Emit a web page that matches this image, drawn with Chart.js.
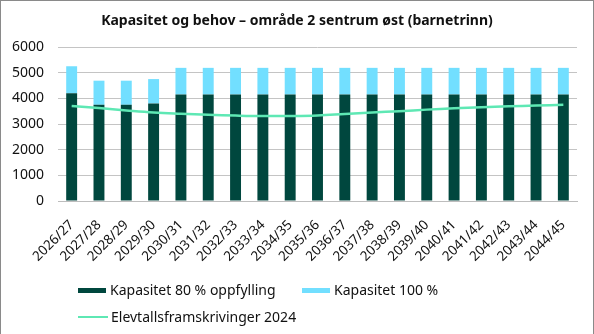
<!DOCTYPE html>
<html><head><meta charset="utf-8">
<script src="https://cdn.jsdelivr.net/npm/chart.js@4/dist/chart.umd.min.js"></script>
<style>
html,body{margin:0;padding:0;background:#fff;}
#wrap{position:relative;width:594px;height:334px;box-sizing:border-box;border-left:1px solid #8a8a8a;border-right:1px solid #8a8a8a;border-top:1px solid #8a8a8a;font-family:"Noto Sans",sans-serif;color:#111;}
#title{position:absolute;left:0;top:9px;width:592px;text-align:center;font-weight:bold;font-size:14px;}
canvas{position:absolute;left:0;top:0;}
.leg{position:absolute;font-size:14px;white-space:nowrap;line-height:16px;}
.box{display:inline-block;width:28px;height:5px;vertical-align:middle;margin-right:4px;position:relative;top:-1px;}
.ln{display:inline-block;width:30px;height:2px;vertical-align:middle;margin-right:3px;position:relative;top:-1px;}
</style></head>
<body><div id="wrap"><canvas id="c" width="592" height="333"></canvas><div id="title">Kapasitet og behov – område 2 sentrum øst (barnetrinn)</div>
<div class="leg" style="left:77px;top:281px"><span class="box" style="background:#00473e"></span>Kapasitet 80 % oppfylling</div>
<div class="leg" style="left:301px;top:281px"><span class="box" style="background:#72dfff"></span>Kapasitet 100 %</div>
<div class="leg" style="left:77px;top:308px"><span class="ln" style="background:#5ee8b4"></span>Elevtallsframskrivinger 2024</div>
</div>
<script>
const categories = ["2026/27","2027/28","2028/29","2029/30","2030/31","2031/32","2032/33","2033/34","2034/35","2035/36","2036/37","2037/38","2038/39","2039/40","2040/41","2041/42","2042/43","2043/44","2044/45"];
const kapasitet80 = [4200,3750,3750,3800,4150,4150,4150,4150,4150,4150,4150,4150,4150,4150,4150,4150,4150,4150,4150];
const kapasitet100 = [5250,4687.5,4687.5,4750,5187.5,5187.5,5187.5,5187.5,5187.5,5187.5,5187.5,5187.5,5187.5,5187.5,5187.5,5187.5,5187.5,5187.5,5187.5];
const elevtall = [3700,3620,3530,3450,3400,3360,3330,3310,3310,3330,3390,3450,3500,3560,3610,3650,3690,3720,3750];
const yTicks = [0,1000,2000,3000,4000,5000,6000];
const diff100 = kapasitet100.map((v,i)=>v-kapasitet80[i]);

new Chart(document.getElementById('c'), {
  data: {
    labels: categories,
    datasets: [
      {type:'line', label:'Elevtallsframskrivinger 2024', data: elevtall, borderColor:'#5ee8b4', borderWidth:2.5, pointRadius:0, tension:0.4, order:0},
      {type:'bar', label:'Kapasitet 80 % oppfylling', data: kapasitet80, backgroundColor:'#00473e', stack:'s', barPercentage:0.4, categoryPercentage:1, order:1},
      {type:'bar', label:'Kapasitet 100 %', data: diff100, backgroundColor:'#72dfff', stack:'s', barPercentage:0.4, categoryPercentage:1, order:1}
    ]
  },
  options: {
    responsive:false, animation:false, devicePixelRatio:1,
    layout:{padding:{left:0,right:16,top:46,bottom:58}},
    plugins:{legend:{display:false}, title:{display:false}, tooltip:{enabled:false}},
    scales:{
      x:{stacked:true, grid:{display:false}, border:{color:'#bdbdbd'},
         ticks:{color:'#111', font:{family:'Noto Sans', size:13.5}, maxRotation:45, minRotation:45, autoSkip:false, padding:8},
         afterFit:(s)=>{s.height=75;}},
      y:{stacked:true, min:0, max:6000, afterBuildTicks:(s)=>{s.ticks=yTicks.map(v=>({value:v}));},
         grid:{color:'#c4c4c4', drawTicks:false}, border:{display:false},
         ticks:{color:'#111', font:{family:'Noto Sans', size:14}, padding:14, callback:(v)=>String(v)},
         afterFit:(s)=>{s.width=57;}}
    }
  }
});
</script></body></html>
